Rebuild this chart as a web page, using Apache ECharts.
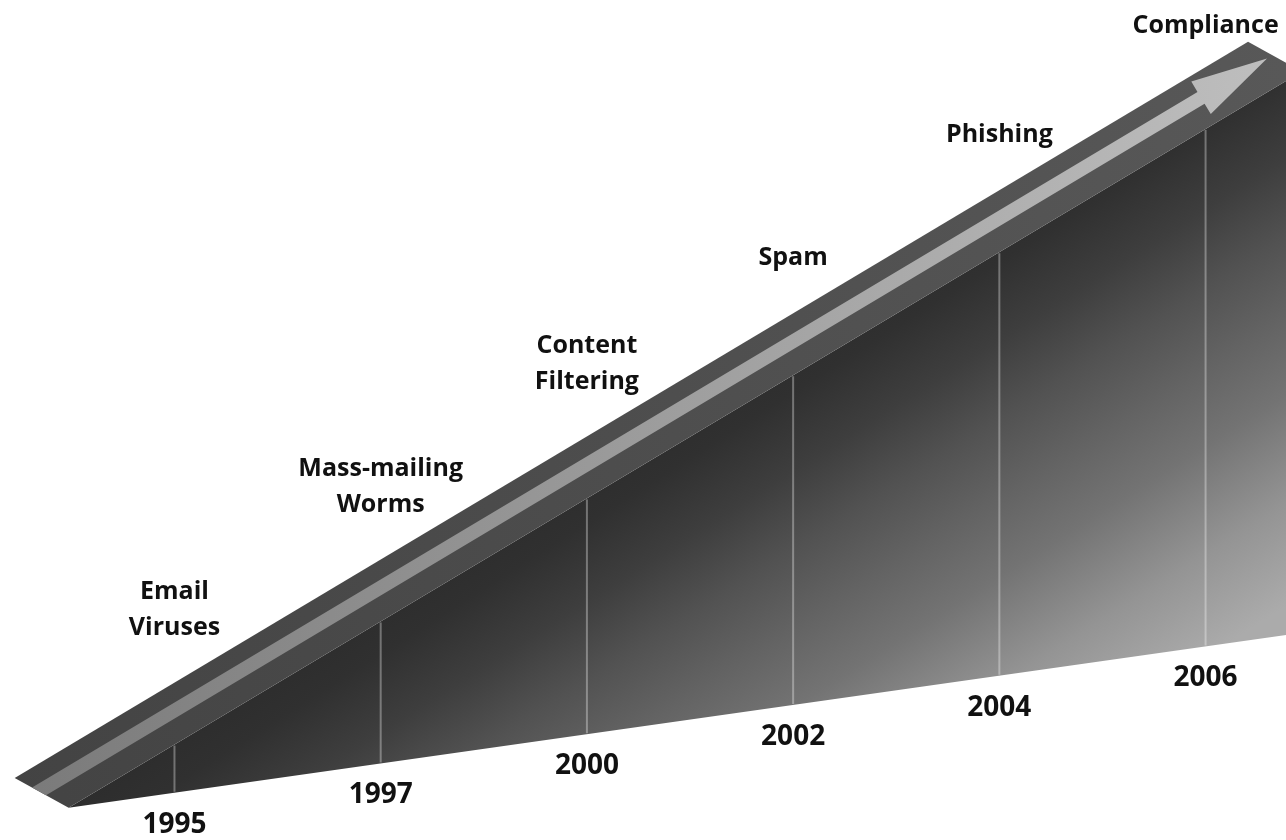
<!DOCTYPE html>
<html>
<head>
<meta charset="utf-8">
<script src="https://cdn.jsdelivr.net/npm/echarts@6/dist/echarts.min.js"></script>
<style>
html,body{margin:0;padding:0;background:#ffffff;}
#chart{width:1286px;height:840px;}
</style>
</head>
<body>
<div id="chart"></div>
<script>
// ---- data ----
const years = ['1995', '1997', '2000', '2002', '2004', '2006'];
const threats = ['Email\nViruses', 'Mass-mailing\nWorms', 'Content\nFiltering', 'Spam', 'Phishing', 'Compliance'];
const stageIndex = [0, 1, 2, 3, 4, 5];

// ---- wedge geometry in axis units (value = a + b * stage) ----
const X_MIN = -0.846, X_MAX = 5.390;
const OUTER = [18.74, 14.655];
const INNER = [11.36, 14.655];
const STRIP_T = [16.36, 14.655];
const STRIP_B = [14.45, 14.655];
const BOTTOM = [5.625, 3.483];
const BEVEL_SLOPE = -13.58;
const PEAK_I = 5.206;
const ARROW_BASE_I = 4.978, ARROW_TIP_I = 5.298;

function at(line, i) { return line[0] + line[1] * i; }
function meet(l1, l2) { const i = (l2[0] - l1[0]) / (l1[1] - l2[1]); return [i, at(l1, i)]; }

const chart = echarts.init(document.getElementById('chart'), null, { renderer: 'canvas' });
const FONT = '"Open Sans", "Noto Sans", sans-serif';

function renderWedge(params, api) {
  const c = p => api.coord(p);
  const tip = meet(INNER, BOTTOM);
  const BEVEL = [tip[1] - BEVEL_SLOPE * tip[0], BEVEL_SLOPE];
  const peak = [PEAK_I, at(OUTER, PEAK_I)];
  const CAP = [peak[1] - BEVEL_SLOPE * PEAK_I, BEVEL_SLOPE];
  const outerLeft = meet(OUTER, BEVEL);
  const capInner = meet(CAP, INNER);
  const iEnd = capInner[0];

  const face = [tip, [iEnd, at(INNER, iEnd)], [iEnd + 0.3, at(INNER, iEnd + 0.3)], [iEnd + 0.3, at(BOTTOM, iEnd + 0.3)]].map(c);
  const band = [outerLeft, peak, capInner, tip].map(c);

  const mid = [(STRIP_T[0] + STRIP_B[0]) / 2, OUTER[1]];
  const B = c([ARROW_BASE_I, at(mid, ARROW_BASE_I)]);
  const T = c([ARROW_TIP_I, at(mid, ARROW_TIP_I)]);
  const ux = T[0] - B[0], uy = T[1] - B[1];
  const len = Math.hypot(ux, uy);
  const nx = -uy / len, ny = ux / len; // perpendicular
  const p0 = c([ARROW_BASE_I, at(STRIP_T, ARROW_BASE_I)]);
  const p1 = c([ARROW_BASE_I, at(STRIP_B, ARROW_BASE_I)]);
  const h = Math.abs(p1[1] - p0[1]) / 2 * Math.abs(ux) / len;
  const headH = 19;
  const bevT = c(meet(STRIP_T, BEVEL));
  const bevB = c(meet(STRIP_B, BEVEL));
  const s = nx < 0 ? -1 : 1;
  const arrow = [
    bevT,
    [B[0] - s * nx * h, B[1] - s * ny * h],
    [B[0] - s * nx * headH, B[1] - s * ny * headH],
    T,
    [B[0] + s * nx * headH, B[1] + s * ny * headH],
    [B[0] + s * nx * h, B[1] + s * ny * h],
    bevB
  ];

  const faceFill = new echarts.graphic.LinearGradient(368, 583, 642, 1015, [
    { offset: 0, color: '#2b2b2b' },
    { offset: 0.13, color: '#303030' },
    { offset: 0.26, color: '#3e3e3e' },
    { offset: 0.39, color: '#525252' },
    { offset: 0.52, color: '#636363' },
    { offset: 0.65, color: '#737373' },
    { offset: 0.83, color: '#949494' },
    { offset: 1, color: '#ababab' }
  ], true);
  const bandFill = new echarts.graphic.LinearGradient(0, 0, 1286, 0, [
    { offset: 0, color: '#434343' },
    { offset: 1, color: '#585858' }
  ], true);
  const arrowFill = new echarts.graphic.LinearGradient(20, 0, 1267, 0, [
    { offset: 0, color: '#7a7a7a' },
    { offset: 0.5, color: '#9c9c9c' },
    { offset: 1, color: '#bebebe' }
  ], true);

  return {
    type: 'group',
    children: [
      { type: 'polygon', shape: { points: face }, style: { fill: faceFill } },
      { type: 'polygon', shape: { points: band }, style: { fill: bandFill } },
      { type: 'polygon', shape: { points: arrow }, style: { fill: arrowFill } }
    ]
  };
}

function renderStage(params, api) {
  const k = params.dataIndex;
  const i = api.value(0);
  const top = api.coord([i, at(INNER, i)]);
  const bot = api.coord([i, at(BOTTOM, i)]);
  const out = api.coord([i, at(OUTER, i)]);
  const labelBottom = Math.max(out[1] - 37, 44);
  return {
    type: 'group',
    children: [
      { type: 'line', shape: { x1: top[0], y1: top[1] + 1, x2: bot[0], y2: bot[1] - 1 },
        style: { stroke: 'rgba(255,255,255,0.33)', lineWidth: 2 } },
      { type: 'text', style: { text: years[k], x: bot[0], y: bot[1] + 32, align: 'center', verticalAlign: 'middle',
        fontFamily: FONT, fontWeight: 'bold', fontSize: 28, fill: '#111111' } },
      { type: 'text', style: { text: threats[k], x: out[0], y: labelBottom, align: 'center', verticalAlign: 'bottom',
        lineHeight: 36, fontFamily: FONT, fontWeight: 'bold', fontSize: 25, fill: '#111111' } }
    ]
  };
}

chart.setOption({
  animation: false,
  backgroundColor: '#ffffff',
  grid: { left: 0, right: 0, top: 0, bottom: 0 },
  xAxis: { type: 'value', min: X_MIN, max: X_MAX, show: false },
  yAxis: { type: 'value', min: 0, max: 100, show: false },
  series: [
    { type: 'custom', name: 'wedge', renderItem: renderWedge, data: [[0, 0]], silent: true, clip: false, z: 1 },
    { type: 'custom', name: 'stages', renderItem: renderStage,
      data: stageIndex.map(s => [s, 0]), silent: true, clip: false, z: 2 }
  ]
});
</script>
</body>
</html>
